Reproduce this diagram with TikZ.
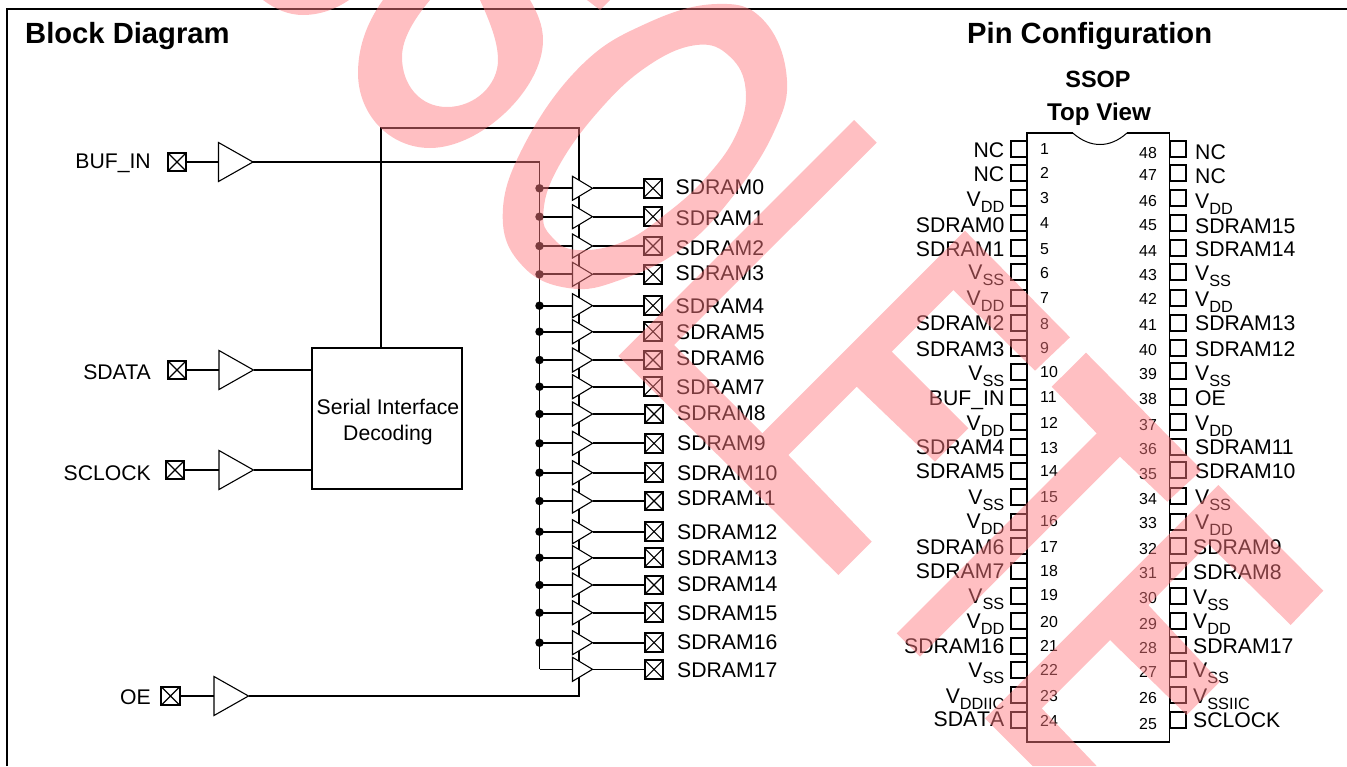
\documentclass[tikz,border=0pt]{standalone}
\usepackage{fontspec}
\setmainfont{Liberation Sans}
\usetikzlibrary{shapes.geometric}
\definecolor{wmark}{rgb}{1,0.48,0.5}
\newcommand{\lowt}[1]{\raisebox{-6pt}{\fontsize{16.3}{16.3}\selectfont #1}}
\tikzset{
  wire/.style={line width=1.9pt,line cap=butt,line join=miter},
  xbox/.style={draw,line width=2pt,fill=white,minimum size=18.5pt,inner sep=0pt,outer sep=0pt,
    path picture={\draw[line width=1.1pt] (path picture bounding box.south west)--(path picture bounding box.north east)
    (path picture bounding box.north west)--(path picture bounding box.south east);}},
  buf/.style={draw,line width=1.1pt,fill=white,isosceles triangle,isosceles triangle stretches,
    shape border rotate=0,inner sep=0pt,outer sep=0pt,anchor=lower side},
  bigbuf/.style={buf,minimum height=34.5pt,minimum width=39pt},
  smallbuf/.style={buf,minimum height=20pt,minimum width=24pt},
  jdot/.style={circle,fill=black,inner sep=0pt,minimum size=8.5pt},
  txt/.style={font=\fontsize{21.2}{24}\selectfont,inner sep=0pt,yshift=-7.6pt},
  labL/.style={txt,anchor=base east},
  labR/.style={txt,anchor=base west},
  num/.style={font=\fontsize{15.9}{18}\selectfont,inner sep=0pt,anchor=base west,yshift=-5.7pt},
  ttl/.style={font=\bfseries\fontsize{29.2}{32}\selectfont,inner sep=0pt,anchor=base west,yshift=-10.4pt},
  sub/.style={font=\bfseries\fontsize{23.5}{26}\selectfont,inner sep=0pt,anchor=base,yshift=-8.4pt},
  pinb/.style={draw,line width=1.8pt,minimum width=16pt,minimum height=16pt,inner sep=0pt,outer sep=0pt},
  stamp/.style={fill=wmark,fill opacity=0.48,draw=none},
}
\begin{document}
\begin{tikzpicture}[x=1pt,y=-1pt]
\useasboundingbox (0,0) rectangle (1347,766);
% frame
\coordinate (fb) at (7,766); \coordinate (fc) at (7,9.3); \coordinate (fr) at (1347,9.3);
\draw[line width=2pt] (fb)--(fc)--(fr);
\node[ttl] (t1) at (25,33) {Block Diagram};
\node[ttl] (t2) at (967,33) {Pin Configuration};
\node[sub] (t3) at (1098,79) {SSOP};
\node[sub,font=\bfseries\fontsize{24.2}{26}\selectfont] (t4) at (1099,112) {Top View};
% serial block
\node[draw,line width=1.8pt,minimum width=150pt,minimum height=141pt,inner sep=0pt,outer sep=0pt] (dec) at (387,418.5) {};
\node[inner sep=0pt,align=center,font=\fontsize{21.2}{26.5}\selectfont] (dectxt) at (388,422) {Serial Interface\\Decoding};
% enable wire
\coordinate (dt) at (381,348); \coordinate (dc) at (579,127.7);
% input stages
\node[xbox] (ibuf) at (177,162) {};
\node[bigbuf] (tbuf) at (218.5,162) {};
\node[labL] (lbuf) at (151,161) {BUF\_IN};
\node[xbox] (isda) at (177,370) {};
\node[bigbuf] (tsda) at (219,370) {};
\node[labL] (lsda) at (151,372) {SDATA};
\node[xbox] (iscl) at (175,470) {};
\node[bigbuf] (tscl) at (219,470) {};
\node[labL] (lscl) at (151,473) {SCLOCK};
\node[xbox] (ioe) at (170.5,696) {};
\node[bigbuf] (toe) at (214,696) {};
\node[labL] (loe) at (151,697) {OE};
\draw[wire] (ibuf.east)--(tbuf.lower side);
\draw[wire] (isda.east)--(tsda.lower side);
\draw[wire] (iscl.east)--(tscl.lower side);
\draw[wire] (ioe.east)--(toe.lower side);
\draw[wire] (tsda.apex)--(dec.west |- tsda.apex);
\draw[wire] (tscl.apex)--(dec.west |- tscl.apex);
\draw[wire] (dt)|-(dc)|-(toe.apex);
% clock bus
\coordinate (busend) at (539.5,669.3);
\draw[wire] (tbuf.apex)-|(busend);
% output rows
\foreach \i/\y/\ly/\bx/\lx in {0/188.3/186.7/653/675.5,1/216.7/217.7/653/675.5,2/246/247.7/653/675.5,3/274.3/272.7/653/675.5,
 4/305.7/305.7/653/675.5,5/331.7/332.3/653/676,6/360/358.3/653/676,7/386.7/386.7/653/676,
 8/414/412.7/654/677,9/443.3/443.3/654/677,10/472.7/473.3/654/677,11/501/498.3/654/677,
 12/531.7/531.7/654/677,13/557.7/558.3/654/677,14/585/584.3/654/677,15/612.7/612.7/654/677,16/642.7/642/654/677}{
  \node[jdot] (d\i) at (539.5,\y) {};
  \node[smallbuf] (b\i) at (572.5,\y) {};
  \node[xbox] (x\i) at (\bx,\y) {};
  \node[labR] (l\i) at (\lx,\ly) {SDRAM\i};
  \draw[wire] (d\i.center)--(b\i.lower side);
  \draw[wire] (b\i.apex)--(x\i.west);
}
\node[smallbuf] (b17) at (572.5,669.3) {};
\node[xbox] (x17) at (654,669.3) {};
\node[labR] (l17) at (677,670) {SDRAM17};
\draw[line width=1.1pt] (busend)--(b17.lower side);
\draw[line width=1.1pt] (b17.apex)--(x17.west);
% chip
\coordinate (c1) at (1027,133); \coordinate (c2) at (1072.7,133); \coordinate (c3) at (1127,133);
\coordinate (c4) at (1169.5,133); \coordinate (c5) at (1169.5,742); \coordinate (c6) at (1027,742);
\draw[line width=1.8pt,line join=miter] (c2)--(c1)--(c6)--(c5)--(c4)--(c3);
\draw[line width=1pt] (c2) .. controls (1082,141) and (1091,144.5) .. (1100,144.5) .. controls (1109,144.5) and (1118,141) .. (c3);
\draw[line width=2.6pt] (c6)--(c5);
% left pins
\foreach \n/\by/\ny/\ly/\tx in {1/149/149/150/NC,2/173/172.5/174/NC,3/198/198/199/{V\lowt{DD}},4/223/222.7/225/SDRAM0,5/248/248.7/249/SDRAM1,
 6/272/272.3/272/{V\lowt{SS}},7/298/297.3/298/{V\lowt{DD}},8/323/323.3/322.7/SDRAM2,9/348/347.3/349.3/SDRAM3,10/372/371.7/372.7/{V\lowt{SS}},
 11/397/396.7/397.7/BUF\_IN,12/422/422.3/422.7/{V\lowt{DD}},13/447/447.3/446.7/SDRAM4,14/471/471/470.7/SDRAM5,15/497/496.7/496.7/{V\lowt{SS}},
 16/522/520.7/520.7/{V\lowt{DD}},17/546/546.7/546.7/SDRAM6,18/571/570.7/570.7/SDRAM7,19/596/595/596/{V\lowt{SS}},20/621/621.7/621/{V\lowt{DD}},
 21/646/645.7/645.7/SDRAM16,22/670/669.3/670/{V\lowt{SS}},23/695/696/696/{V\lowt{DDIIC}},24/720/720.7/719.3/{\addfontfeature{Kerning=Off}SDATA}}{
  \node[pinb] (p\n) at (1019,\by) {};
  \node[num] (pn\n) at (1040,\ny) {\n};
  \node[labL] (pl\n) at (1004.5,\ly) {\tx};
}
% right pins
\foreach \n/\by/\ny/\ly/\lx/\tx in {48/149/152.3/151.7/1195/NC,47/173/174.3/176/1195/NC,46/198/200.7/200.7/1195/{V\lowt{DD}},45/223/225/225.7/1195/SDRAM15,44/248/250.7/249.3/1195/SDRAM14,
 43/272/274.7/273.3/1195/{V\lowt{SS}},42/298/299/298.7/1195/{V\lowt{DD}},41/323/325/323/1195/SDRAM13,40/348/349.3/349.3/1195/SDRAM12,39/371/373.3/373.3/1195/{V\lowt{SS}},
 38/397/398.3/398.3/1195/OE,37/422/424.3/422.7/1195/{V\lowt{DD}},36/447/448.3/447.3/1195/SDRAM11,35/470/473.3/470.7/1195/SDRAM10,34/496/498.3/497.3/1195/{V\lowt{SS}},
 33/522/522.7/521.7/1195/{V\lowt{DD}},32/546/548.3/547.3/1193/SDRAM9,31/571/572.3/571.7/1193/SDRAM8,30/596/597.3/596.7/1193/{V\lowt{SS}},29/621/623.3/621/1193/{V\lowt{DD}},
 28/645/647.3/645.7/1193/SDRAM17,27/669/671.7/670/1193/{V\lowt{SS}},26/695/697.3/695.7/1193/{V\lowt{SSIIC}},25/720/723.3/720/1193/SCLOCK}{
  \node[pinb] (p\n) at (1178,\by) {};
  \node[num] (pn\n) at (1139,\ny) {\n};
  \node[labR] (pl\n) at (\lx,\ly) {\tx};
}
% stamp
\fill[stamp] (263,0) .. controls (275,9) and (288,15) .. (303,15) .. controls (320,15) and (336,9) .. (349,0) -- cycle;
\fill[stamp] (587,0) -- (600,10) -- (610,0) -- cycle;
\fill[stamp] (383,0) .. controls (365,25) and (358,50) .. (358,73) .. controls (358,115) and (390,148) .. (430,148)
  .. controls (480,148) and (543,90) .. (543,40) .. controls (543,25) and (537,12) .. (530,0) -- (480,0)
  .. controls (490,22) and (498,42) .. (498,60) .. controls (498,85) and (475,107) .. (447,107)
  .. controls (420,107) and (402,85) .. (402,57) .. controls (402,38) and (415,18) .. (430,0) -- cycle;
\fill[stamp,even odd rule] plot[smooth cycle,tension=0.7] coordinates {(502.7,216.7)(523.3,146.7)(580,66.7)(646.7,23.3)(716.7,4)(763.3,20)(786.7,76.7)(773.3,133.3)(730,200)(680,250)(620,280)(570,288.3)(523.3,266.7)}
  plot[smooth cycle,tension=0.7] coordinates {(543.3,213.3)(556.7,170)(596.7,113.3)(646.7,66.7)(696.7,45)(730,56.7)(745.7,90)(736.7,133.3)(706.7,176.7)(666.7,213.3)(623.3,241.7)(576.7,250)(551.7,236.7)};
\fill[stamp] (854,120)--(876.7,142.7)--(674,345)--(762.3,433.3)--(965,230.7)--(1070,337.3)--(1035,370.7)--(953.3,290)--(891.7,351.7)--(968.3,428.3)--(935,461.7)--(856.7,386.7)--(788.3,455)--(871.7,541.7)--(838.3,575)--(618.3,356)--cycle;
\fill[stamp] (1086,352.7)--(1201.7,470)--(1167.3,501.7)--(1120,456.7)--(920,656.7)--(896.7,633.3)--(1096.7,433.3)--(1051.7,386.7)--cycle;
\fill[stamp] (1218.3,485)--(1323.3,590.7)--(1290.7,625)--(1208.3,544)--(1148.3,605)--(1220,681.7)--(1186.7,715)--(1110,640)--(1041.7,708.3)--(1096.7,766)--(1032.7,766)--(985,718.3)--cycle;
\end{tikzpicture}
\end{document}
